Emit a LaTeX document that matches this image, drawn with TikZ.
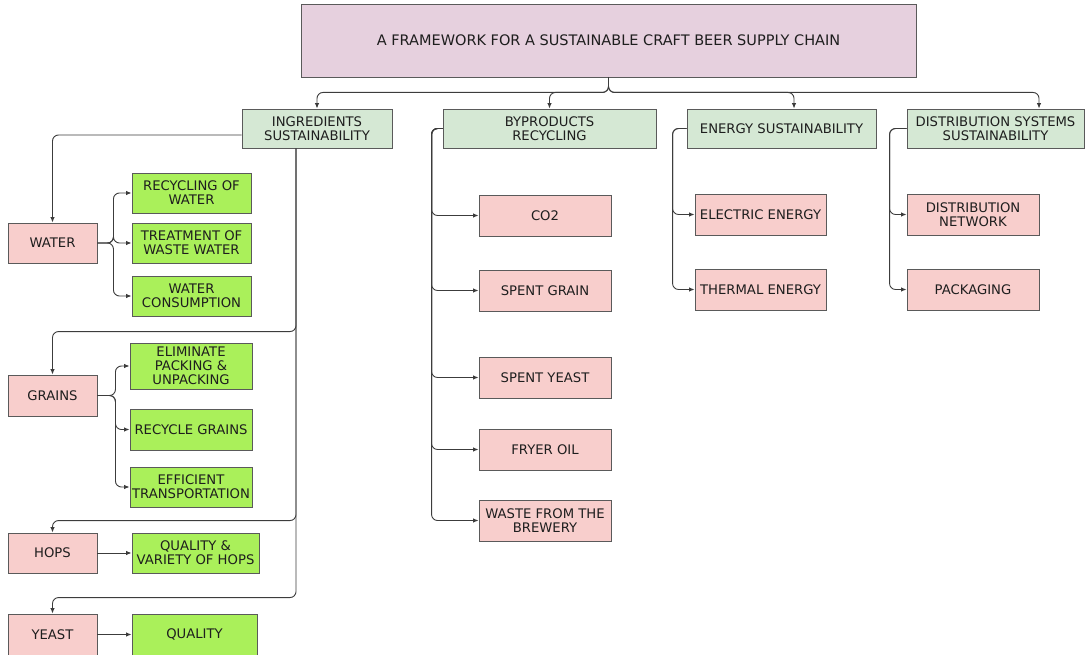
\documentclass[tikz,border=0pt]{standalone}
\usepackage{fontspec}
\setmainfont{DejaVu Sans}
\usetikzlibrary{arrows.meta}
\definecolor{titlefill}{HTML}{E6D0DE}
\definecolor{hdrfill}{HTML}{D5E8D4}
\definecolor{pinkfill}{HTML}{F8CECC}
\definecolor{greenfill}{HTML}{AAF05A}
\definecolor{boxline}{HTML}{5A5A5A}
\definecolor{connc}{HTML}{3C3C3C}
\definecolor{textc}{HTML}{1E1E1E}
\begin{document}
\begin{tikzpicture}[x=1pt,y=-1pt,
  box/.style={draw=boxline, line width=0.9pt, align=center, inner sep=1pt,
    font=\fontsize{13.2}{13.8}\selectfont, text=textc},
  titlebox/.style={box, fill=titlefill, font=\fontsize{14.5}{16}\selectfont},
  hdr/.style={box, fill=hdrfill, minimum height=39},
  pinkb/.style={box, fill=pinkfill},
  greenb/.style={box, fill=greenfill},
  conn/.style={draw=connc, line width=0.9pt, rounded corners=6pt,
    -{Latex[length=5.5pt,width=4.5pt]}}]
\useasboundingbox (0,0) rectangle (1086,655);

% title
\node[titlebox, minimum width=615, minimum height=73] (title) at (608.5,40.5)
  {A FRAMEWORK FOR A SUSTAINABLE CRAFT BEER SUPPLY CHAIN};

% headers
\node[hdr, minimum width=150] (ingr) at (317,128.5) {INGREDIENTS\\SUSTAINABILITY};
\node[hdr, minimum width=213] (byprod) at (549.5,128.5) {BYPRODUCTS\\RECYCLING};
\node[hdr, minimum width=189] (energy) at (781.5,128.5) {ENERGY SUSTAINABILITY};
\node[hdr, minimum width=177] (dist) at (995.5,128.5) {DISTRIBUTION SYSTEMS\\SUSTAINABILITY};

% byproducts children
\node[pinkb, minimum width=132, minimum height=41] (co2) at (545,215.5) {CO2};
\node[pinkb, minimum width=132, minimum height=41] (sgrain) at (545,290.5) {SPENT GRAIN};
\node[pinkb, minimum width=132, minimum height=41] (syeast) at (545,377.5) {SPENT YEAST};
\node[pinkb, minimum width=132, minimum height=41] (fryer) at (545,449.5) {FRYER OIL};
\node[pinkb, minimum width=132, minimum height=41] (waste) at (545,520.5) {WASTE FROM THE\\BREWERY};

% energy children
\node[pinkb, minimum width=131, minimum height=41] (elec) at (760.5,214.5) {ELECTRIC ENERGY};
\node[pinkb, minimum width=131, minimum height=41] (therm) at (760.5,289.5) {THERMAL ENERGY};

% distribution children
\node[pinkb, minimum width=132, minimum height=41] (net) at (973,214.5) {DISTRIBUTION\\NETWORK};
\node[pinkb, minimum width=132, minimum height=41] (pack) at (973,289.5) {PACKAGING};

% ingredients
\node[pinkb, minimum width=89, minimum height=40] (water) at (52.5,243) {WATER};
\node[greenb, minimum width=119, minimum height=40] (recw) at (191.5,193) {RECYCLING OF\\WATER};
\node[greenb, minimum width=119, minimum height=40] (treat) at (191.5,243) {TREATMENT OF\\WASTE WATER};
\node[greenb, minimum width=119, minimum height=40] (cons) at (191.5,296) {WATER\\CONSUMPTION};

\node[pinkb, minimum width=89, minimum height=41] (grains) at (52.5,395.5) {GRAINS};
\node[greenb, minimum width=122, minimum height=46] (elim) at (191,366) {ELIMINATE\\PACKING \&\\UNPACKING};
\node[greenb, minimum width=122, minimum height=41] (recg) at (191,429.5) {RECYCLE GRAINS};
\node[greenb, minimum width=122, minimum height=40] (eff) at (191,487) {EFFICIENT\\TRANSPORTATION};

\node[pinkb, minimum width=89, minimum height=40] (hops) at (52.5,553) {HOPS};
\node[greenb, minimum width=127, minimum height=40] (qvh) at (195.5,553) {QUALITY \&\\VARIETY OF HOPS};

\node[pinkb, minimum width=89, minimum height=41] (yeast) at (52.5,634.5) {YEAST};
\node[greenb, minimum width=125, minimum height=41] (qual) at (194.5,634.5) {QUALITY};

% title to headers
\draw[conn] (title.south) -- ++(0,15) -| (ingr.north);
\draw[conn] (title.south) -- ++(0,15) -| (byprod.north);
\draw[conn] (title.south) -- ++(0,15) -| ([xshift=12.5pt]energy.north);
\draw[conn] (title.south) -- ++(0,15) -| ([xshift=43.5pt]dist.north);

% byproducts
\foreach \t in {co2,sgrain,syeast,fryer,waste}
  \draw[conn] (byprod.west) -- ++(-11,0) |- (\t.west);
% energy
\foreach \t in {elec,therm}
  \draw[conn] (energy.west) -- ++(-14,0) |- (\t.west);
% distribution
\foreach \t in {net,pack}
  \draw[conn] (dist.west) -- ++(-17,0) |- (\t.west);

% ingredients to items
\draw[conn] ([yshift=-6.5pt]ingr.west) -| (water.north);
\coordinate (trunk) at ([xshift=-21pt]ingr.south);
\draw[conn] (trunk) |- ([yshift=43pt]grains.north) -- (grains.north);
\draw[conn] (trunk) |- ([yshift=12pt]hops.north) -- (hops.north);
\draw[conn] (trunk) |- ([yshift=16pt]yeast.north) -- (yeast.north);

% water
\foreach \t in {recw,treat,cons}
  \draw[conn] (water.east) -- ++(16,0) |- (\t.west);
% grains
\foreach \t in {elim,recg,eff}
  \draw[conn] (grains.east) -- ++(18,0) |- (\t.west);
% hops, yeast
\draw[conn] (hops.east) -- (qvh.west);
\draw[conn] (yeast.east) -- (qual.west);
\end{tikzpicture}
\end{document}
